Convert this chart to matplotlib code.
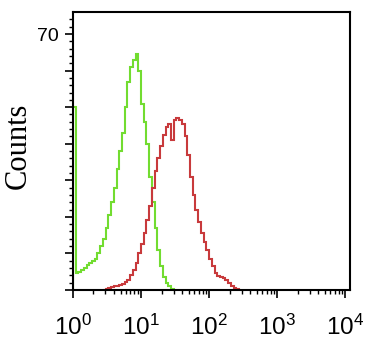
import numpy as np
import matplotlib
matplotlib.use("Agg")
import matplotlib.pyplot as plt
from matplotlib.ticker import FixedLocator, NullFormatter, LogLocator

# ---- data (counts per log10 bin, bin width 0.04 decades) ----
green_start = 0.00
green_counts = [50, 4.5, 5, 5.5, 6, 6.8, 7.3, 8, 8.5, 10, 12, 14, 17, 20.5,
                24, 28, 33, 38, 43, 50, 57, 61, 63, 64.5, 60, 51, 46, 40, 31,
                24, 17, 11, 6.5, 3.5, 2, 1, 0.3]
red_start = 0.44
red_counts = [0, 0.3, 0.6, 0.8, 1, 1.1, 1.3, 1.7, 2.2, 2.8, 4, 5.5, 7.5, 10,
              12.5, 15.5, 19, 23, 28, 32.5, 36, 39.5, 42.5, 44.5, 45.5, 41,
              46.5, 47, 46.5, 45.5, 42, 37, 31, 26, 22, 18.5, 15.5, 13, 11,
              8.5, 6.5, 4.5, 3.8, 3.5, 3.2, 2.8, 2, 1.2, 0.6, 0.2]
bin_width = 0.04
xtick_exps = [0, 1, 2, 3, 4]
xtick_labels = [r"$\mathregular{10^{%d}}$" % e for e in xtick_exps]
ytick_label_value = 70

fig = plt.figure(figsize=(3.74, 3.46), dpi=100)
ax = fig.add_axes([0.195, 0.162, 0.741, 0.803])

def edges(start, n):
    return 10 ** (start + bin_width * np.arange(n + 1))

ax.stairs(green_counts, edges(green_start, len(green_counts)), baseline=0,
          color="#72dc30", linewidth=1.5)
ax.stairs(red_counts, edges(red_start, len(red_counts)), baseline=0,
          color="#c83a3c", linewidth=1.5)

ax.set_xscale("log")
ax.set_xlim(1, 10 ** 4.07)
ax.set_ylim(0, 76)

ax.xaxis.set_major_locator(FixedLocator([10 ** e for e in xtick_exps]))
ax.set_xticklabels(xtick_labels, fontsize=17.5, family="Liberation Sans")
ax.xaxis.set_minor_locator(LogLocator(base=10, subs=np.arange(2, 10)))
ax.xaxis.set_minor_formatter(NullFormatter())

ax.yaxis.set_major_locator(FixedLocator(np.arange(0, 71, 10)))
ax.set_yticklabels(["" if v != ytick_label_value else str(v)
                    for v in np.arange(0, 71, 10)],
                   fontsize=14, family="Liberation Sans")
ax.yaxis.set_minor_locator(FixedLocator(np.arange(0, 76, 2)))

ax.tick_params(axis="both", which="major", direction="out", length=6,
               width=1.2, color="black", pad=4)
ax.tick_params(axis="both", which="minor", direction="out", length=3,
               width=1.0, color="black")
ax.tick_params(axis="x", which="major", pad=12)

for s in ax.spines.values():
    s.set_linewidth(1.5)
    s.set_color("black")

ax.set_ylabel("Counts", fontsize=22, family="Liberation Serif")
ax.yaxis.set_label_coords(-0.145, 0.52)

fig.savefig("out.png", dpi=100)
